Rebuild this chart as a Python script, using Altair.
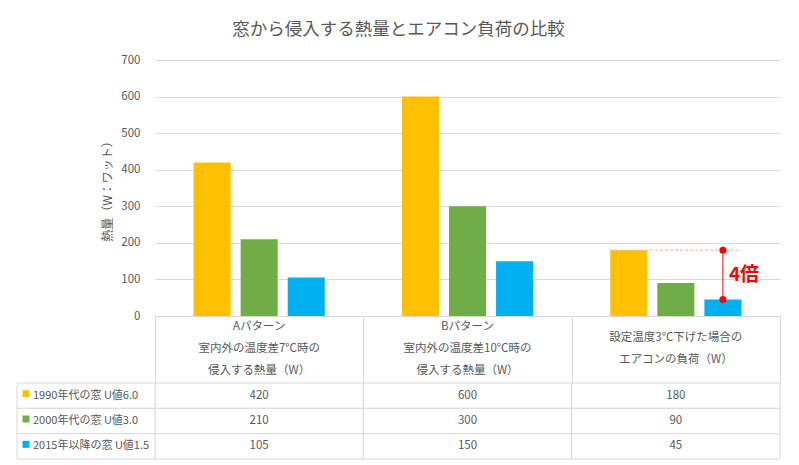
import altair as alt
import pandas as pd

# --- data -----------------------------------------------------------------
chart_title = "窓から侵入する熱量とエアコン負荷の比較"
y_title = "熱量（W：ワット）"
categories = [
    "Aパターン\n室内外の温度差7°C時の\n侵入する熱量（W）",
    "Bパターン\n室内外の温度差10°C時の\n侵入する熱量（W）",
    "設定温度3°C下げた場合の\nエアコンの負荷（W）",
]
series = ["1990年代の窓 U値6.0", "2000年代の窓 U値3.0", "2015年以降の窓 U値1.5"]
values_1990 = [420, 600, 180]
values_2000 = [210, 300, 90]
values_2015 = [105, 150, 45]
colors = ["#FFC000", "#70AD47", "#00B0F0"]
y_ticks = [0, 100, 200, 300, 400, 500, 600, 700]
ratio_text = "4倍"

FONT = "Noto Sans CJK JP"
GRAY = "#595959"
LINE = "#D9D9D9"
RED = "#FF0000"

rows = []
for s, vals in zip(series, [values_1990, values_2000, values_2015]):
    for c, v in zip(categories, vals):
        rows.append({"category": c, "series": s, "value": v})
df = pd.DataFrame(rows)

# comparison marker on the air-conditioner group: oldest vs newest window
top_val = values_1990[2]
low_val = values_2015[2]
df_note = pd.DataFrame({
    "category": [categories[2]],
    "series": [series[2]],
    "top": [top_val],
    "low": [low_val],
    "mid": [(top_val + low_val) / 2],
    "label": [ratio_text],
})
df_dots = pd.DataFrame({
    "category": [categories[2]] * 2,
    "series": [series[2]] * 2,
    "value": [top_val, low_val],
})
df_legend = pd.DataFrame({"col": ["key"] * 3, "series": series})
df_head = pd.DataFrame({"category": categories, "series": [series[0]] * 3})
df_head["lines"] = df_head["category"].str.count("\n") + 1

# --- shared scales --------------------------------------------------------------
cat_scale = alt.Scale(domain=categories, paddingInner=0, paddingOuter=0)
off_scale = alt.Scale(domain=series, paddingInner=0.213, paddingOuter=0.819)
val_scale = alt.Scale(domain=[0, 700])

x_cat = alt.X(
    "category:N", sort=categories, scale=cat_scale,
    axis=alt.Axis(
        title=None, grid=False, domainColor=LINE, tickColor=LINE,
        tickBand="extent", tickSize=67, labels=False,
    ),
)
x_plain = alt.X("category:N", sort=categories, scale=cat_scale, axis=None)
x_off = alt.XOffset("series:N", sort=series, scale=off_scale)
y_axis = alt.Axis(
    values=y_ticks, title=y_title, grid=True, gridColor=LINE,
    domain=False, ticks=False, labelPadding=15, labelColor=GRAY,
    labelFontSize=11.5, labelFont=FONT, titleFont=FONT, titleFontSize=12,
    titleColor=GRAY, titleFontWeight="normal", titlePadding=6,
)


def y_of(field):
    return alt.Y(f"{field}:Q", scale=val_scale, axis=None)


color = alt.Color("series:N", scale=alt.Scale(domain=series, range=colors), legend=None)

# --- bars (own the value axis) -----------------------------------------------------
bars = alt.Chart(df).mark_bar().encode(
    x=x_cat, xOffset=x_off, y=alt.Y("value:Q", scale=val_scale, axis=y_axis), color=color,
)

# --- annotation on the air-conditioner group -------------------------------------
guide = alt.Chart(df_note).mark_rule(color="#F4A3A3", strokeDash=[3, 2], strokeWidth=1).encode(
    x=alt.X("category:N", sort=categories, scale=cat_scale, axis=None, bandPosition=0.185),
    x2=alt.X2("category", bandPosition=0.815),
    y=y_of("top"),
)
red_line = alt.Chart(df_note).mark_rule(color=RED, strokeWidth=1).encode(
    x=x_plain, xOffset=x_off, y=y_of("top"), y2="low:Q",
)
dots = alt.Chart(df_dots).mark_circle(color=RED, size=50, opacity=1).encode(
    x=x_plain, xOffset=x_off, y=y_of("value"),
)
ratio = alt.Chart(df_note).mark_text(
    color=RED, fontSize=19, fontWeight="bold", font=FONT, align="left", baseline="middle", dx=6,
).encode(x=x_plain, xOffset=x_off, y=y_of("mid"), text="label:N")
notes = alt.layer(guide, red_line, dots, ratio)

# --- data table under the plot -------------------------------------------------
ROW_TOP, ROW_BOTTOM = 323, 399          # table body, in plot pixels
HEADER_MID = 289                         # centre of the header band, in plot pixels
LINE_H = 22
row_h = (ROW_BOTTOM - ROW_TOP) / len(series)

y_row = alt.Y(
    "series:N", sort=series,
    scale=alt.Scale(domain=series, range=[ROW_TOP, ROW_BOTTOM], paddingInner=0, paddingOuter=0),
    axis=None,
)
cells = alt.Chart(df).mark_rect(fill="white", stroke=LINE, strokeWidth=1).encode(x=x_plain, y=y_row)
cell_text = alt.Chart(df).mark_text(font=FONT, fontSize=11.5, color=GRAY, baseline="middle").encode(
    x=x_plain, y=y_row, text="value:Q",
)

# header captions: each block of lines is centred in the header band
head_layers = []
for n in sorted(df_head["lines"].unique()):
    first_line = HEADER_MID - (n - 1) * LINE_H / 2
    head_layers.append(
        alt.Chart(df_head[df_head["lines"] == n]).mark_text(
            font=FONT, fontSize=11.5, color=GRAY, baseline="middle", lineBreak="\n",
            lineHeight=LINE_H, dy=first_line - (ROW_TOP + row_h / 2),
        ).encode(x=x_plain, y=y_row, text="category:N")
    )
table = alt.layer(cells, cell_text, *head_layers)

# --- legend column of the table ------------------------------------------------
key_scale = alt.Scale(domain=["key"], range=[-138, 0], paddingInner=0, paddingOuter=0)
x_key = alt.X("col:N", scale=key_scale, axis=None, bandPosition=0)
key_cells = alt.Chart(df_legend).mark_rect(fill="white", stroke=LINE, strokeWidth=1).encode(
    x=alt.X("col:N", scale=key_scale, axis=None),
    y=y_row,
)
key_marks = alt.Chart(df_legend).mark_square(size=49, opacity=1, xOffset=9, yOffset=-2).encode(
    x=x_key, y=y_row, color=color,
)
key_text = alt.Chart(df_legend).mark_text(
    font=FONT, fontSize=11, color=GRAY, align="left", baseline="middle", dx=16,
).encode(x=x_key, y=y_row, text="series:N")
legend_col = alt.layer(key_cells, key_marks, key_text)

chart = (
    alt.layer(bars, notes, table, legend_col)
    .resolve_scale(x="independent", y="independent")
    .properties(
        width=625, height=256,
        padding={"left": 155, "top": 60, "right": 19, "bottom": 149},
        autosize=alt.AutoSizeParams(type="none"),
        title=alt.Title(
            chart_title, anchor="middle", frame="bounds", fontSize=17.5,
            font=FONT, color=GRAY, fontWeight="normal", offset=16,
        ),
    )
    .configure(font=FONT, background="white")
    .configure_view(stroke=None)
)

chart.save("out.html", embed_options={"renderer": "svg", "actions": False})
